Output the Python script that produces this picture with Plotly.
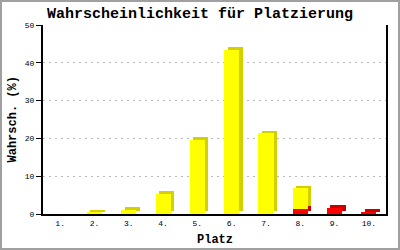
import plotly.graph_objects as go

categories = ["1.", "2.", "3.", "4.", "5.", "6.", "7.", "8.", "9.", "10."]
yellow = [0, 0.35, 1.05, 5.3, 19.7, 43.4, 21.3, 5.45, 0, 0]
red = [0, 0, 0, 0, 0, 0, 0, 1.3, 1.6, 0.45]
y_ticks = [0, 10, 20, 30, 40, 50]

title = "Wahrscheinlichkeit für Platzierung"
x_title = "Platz"
y_title = "Wahrsch. (%)"

MONO = "Liberation Mono, Courier New, monospace"
W = 0.44       # front face width (category units)
DX = 0.1       # depth offset to the right (category units)
DY = 0.75      # depth offset upwards (value units)

fig = go.Figure()

# back (depth) faces, darker
fig.add_trace(go.Bar(x=categories, y=red, base=[DY] * len(red),
                     width=W, offset=-W / 2 + DX,
                     marker=dict(color="#c80000", line=dict(width=0)),
                     hoverinfo="skip", showlegend=False))
fig.add_trace(go.Bar(x=categories, y=yellow, base=[r + DY for r in red],
                     width=W, offset=-W / 2 + DX,
                     marker=dict(color="#d2d000", line=dict(width=0)),
                     hoverinfo="skip", showlegend=False))
# front faces
fig.add_trace(go.Bar(x=categories, y=red, base=[0] * len(red),
                     width=W, offset=-W / 2,
                     marker=dict(color="#ff0000", line=dict(width=0)),
                     showlegend=False))
fig.add_trace(go.Bar(x=categories, y=yellow, base=red,
                     width=W, offset=-W / 2,
                     marker=dict(color="#ffff00", line=dict(width=0)),
                     showlegend=False))

L, R, T, B = 43, 14, 25, 36
pw, ph = 400 - L - R, 250 - T - B

fig.update_layout(
    width=400, height=250,
    margin=dict(l=L, r=R, t=T, b=B, pad=0, autoexpand=False),
    paper_bgcolor="white", plot_bgcolor="white",
    barmode="overlay", bargap=0,
    title=dict(text=title, x=0.5, xanchor="center", y=1 - 13 / 250, yanchor="middle",
               font=dict(family=MONO, size=15, color="black", weight="bold")),
    xaxis=dict(
        type="category", range=[-0.5, 9.5], automargin=False,
        showline=True, linecolor="black", linewidth=2,
        showgrid=False, ticks="", zeroline=False,
        tickfont=dict(family=MONO, size=8, color="black"),
        fixedrange=True,
    ),
    yaxis=dict(
        range=[0, 50], tickvals=y_ticks, automargin=False,
        showline=True, linecolor="black", linewidth=2, mirror=True,
        ticks="outside", ticklen=5, tickcolor="black", tickwidth=1,
        showgrid=True, gridcolor="#bbbbbb", gridwidth=1, griddash="2px,4px",
        zeroline=False,
        tickfont=dict(family=MONO, size=8, color="black"),
        fixedrange=True,
    ),
    annotations=[
        dict(text=x_title, xref="paper", yref="paper", x=0.5, y=(214 - 240) / ph,
             xanchor="center", yanchor="middle", showarrow=False,
             font=dict(family=MONO, size=12, color="black", weight="bold")),
        dict(text=y_title, xref="paper", yref="paper", x=(12 - L) / pw, y=0.5,
             xanchor="center", yanchor="middle", showarrow=False, textangle=-90,
             font=dict(family=MONO, size=12, color="black", weight="bold")),
    ],
    shapes=[dict(type="rect", xref="paper", yref="paper",
                 x0=(1 - L) / pw, x1=(399 - L) / pw,
                 y0=(250 - B - 249) / ph, y1=(250 - B - 1) / ph,
                 line=dict(color="#a0a0a0", width=2), fillcolor="rgba(0,0,0,0)",
                 layer="below")],
)

fig.write_html("out.html")
